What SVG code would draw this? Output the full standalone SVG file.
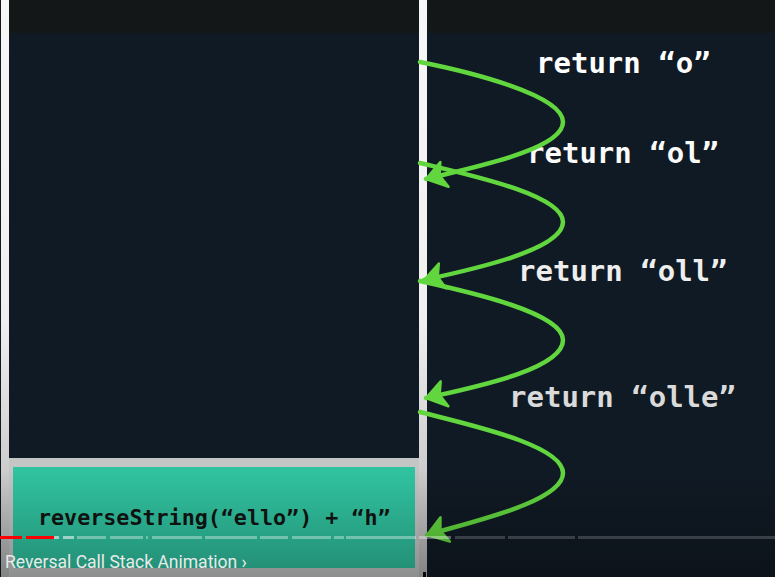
<svg xmlns="http://www.w3.org/2000/svg" width="775" height="577" viewBox="0 0 775 577">
  <defs>
    <style>
      .ret { font-family: "DejaVu Sans Mono", "Liberation Mono", monospace; font-weight: bold; font-size: 29px; }
      .call { font-family: "DejaVu Sans Mono", "Liberation Mono", monospace; font-weight: bold; font-size: 21.7px; fill: #121414; }
      .arc { fill: none; stroke: #62d63f; stroke-width: 4.5; stroke-linecap: round; marker-end: url(#head); }
      .seg { fill: #ffffff; }
    </style>
    <linearGradient id="bar" x1="0" y1="0" x2="0" y2="1">
      <stop offset="0" stop-color="#f7f7f7"/>
      <stop offset="0.55" stop-color="#f0f0f0"/>
      <stop offset="1" stop-color="#b5b5b5"/>
    </linearGradient>
    <linearGradient id="shade" x1="0" y1="0" x2="0" y2="1">
      <stop offset="0" stop-color="#000" stop-opacity="0"/>
      <stop offset="1" stop-color="#000" stop-opacity="0.28"/>
    </linearGradient>
    <marker id="head" markerUnits="userSpaceOnUse" markerWidth="30" markerHeight="32" viewBox="-3 -16 26 32" refX="20" refY="0" orient="auto">
      <path d="M0,-13 L20,0 L2,13 L6,0 Z" fill="#62d63f" stroke="#62d63f" stroke-width="2.5" stroke-linejoin="round"/>
    </marker>
  </defs>

  <!-- background -->
  <rect x="0" y="0" width="775" height="577" fill="#101a24"/>
  <rect x="0" y="0" width="775" height="33" fill="#131717"/>

  <!-- call stack frame -->
  <g id="stack">
    <rect x="1" y="0" width="8" height="577" fill="url(#bar)"/>
    <rect x="419" y="0" width="8" height="577" fill="url(#bar)"/>
    <rect x="9" y="458" width="410" height="119" fill="#c4c6c6"/>
  </g>

  <g id="frame-call">
    <rect x="13" y="467" width="402" height="101" fill="#30c3a0"/>
    <text class="call" x="38" y="525">reverseString(“ello”) + “h”</text>
  </g>

  <!-- return labels -->
  <g id="ret-o"><text class="ret" x="536" y="73" fill="#ffffff">return “o”</text></g>
  <g id="ret-ol"><text class="ret" x="527" y="163" fill="#fbfbfb">return “ol”</text></g>
  <g id="ret-oll"><text class="ret" x="518" y="281" fill="#eeeeee">return “oll”</text></g>
  <g id="ret-olle"><text class="ret" x="509" y="407" fill="#dadada">return “olle”</text></g>

  <!-- connectors -->
  <g id="connectors">
    <path class="arc" d="M420,62 C470,72 563,95 563,122 C563,150 470,168 426,179"/>
    <path class="arc" d="M420,163 C470,175 563,195 563,222 C563,250 470,270 424,280"/>
    <path class="arc" d="M420,281 C470,292 563,313 563,340 C563,370 470,388 426,398"/>
    <path class="arc" d="M420,412 C470,425 563,445 563,473 C563,502 470,522 427,535"/>
  </g>

  <!-- bottom shading overlay -->
  <rect x="0" y="470" width="775" height="107" fill="url(#shade)"/>

  <!-- player progress bar -->
  <g id="progress">
    <rect x="0" y="536" width="22" height="3" fill="#ff0000"/>
    <rect x="26" y="536" width="28" height="3" fill="#ff0000"/>
    <rect class="seg" x="54" y="536" width="5" height="3" opacity="0.55"/>
    <rect class="seg" x="63" y="536" width="11" height="3" opacity="0.55"/>
    <rect class="seg" x="77" y="536" width="29" height="3" opacity="0.35"/>
    <rect class="seg" x="110" y="536" width="33" height="3" opacity="0.35"/>
    <rect class="seg" x="146" y="536" width="2" height="3" opacity="0.35"/>
    <rect class="seg" x="152" y="536" width="50" height="3" opacity="0.35"/>
    <rect class="seg" x="205" y="536" width="52" height="3" opacity="0.35"/>
    <rect class="seg" x="260" y="536" width="28" height="3" opacity="0.35"/>
    <rect class="seg" x="292" y="536" width="39" height="3" opacity="0.35"/>
    <rect class="seg" x="334" y="536" width="10" height="3" opacity="0.35"/>
    <rect class="seg" x="346" y="536" width="70" height="3" opacity="0.35"/>
    <rect class="seg" x="419" y="536" width="32" height="3" opacity="0.35"/>
    <rect class="seg" x="455" y="536" width="50" height="3" opacity="0.18"/>
    <rect class="seg" x="508" y="536" width="67" height="3" opacity="0.18"/>
    <rect class="seg" x="578" y="536" width="197" height="3" opacity="0.18"/>
  </g>

  <rect x="423" y="572" width="3" height="5" fill="#050505"/>

  <text x="5" y="568" font-family="Roboto, 'Noto Sans', sans-serif" font-size="17.5" fill="#eaeaea">Reversal Call Stack Animation ›</text>
</svg>
